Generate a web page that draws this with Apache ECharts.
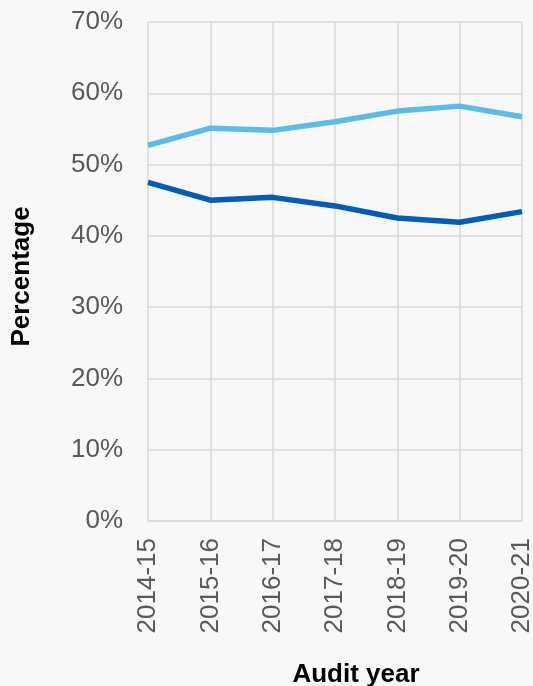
<!DOCTYPE html>
<html>
<head>
<meta charset="utf-8">
<style>
  html, body { margin: 0; padding: 0; background: #f8f8f8; }
  #chart { width: 533px; height: 686px; }
</style>
<script src="https://cdn.jsdelivr.net/npm/echarts@6/dist/echarts.min.js"></script>
</head>
<body>
<div id="chart"></div>
<script>
// Audit years along the x axis
const years = ['2014-15', '2015-16', '2016-17', '2017-18', '2018-19', '2019-20', '2020-21'];
// Percentage shares per audit year (the two series add up to about 100%)
const upperShare = [52.7, 55.1, 54.8, 56.0, 57.5, 58.2, 56.7];
const lowerShare = [47.5, 45.0, 45.4, 44.2, 42.5, 41.9, 43.4];
// Y axis range and step (percent)
const yMin = 0, yMax = 70, yStep = 10;

const font = '"Liberation Sans", Arial, Helvetica, sans-serif';
const chart = echarts.init(document.getElementById('chart'), null, { renderer: 'canvas' });

chart.setOption({
  backgroundColor: '#f8f8f8',
  animation: false,
  grid: {
    left: 148, right: 11, top: 22, bottom: 165,
    containLabel: false, outerBoundsMode: 'none'
  },
  xAxis: {
    type: 'category',
    data: years,
    boundaryGap: false,
    name: 'Audit year',
    nameLocation: 'middle',
    nameGap: 141,
    nameTextStyle: {
      fontFamily: font, fontSize: 26, fontWeight: 'bold', color: '#000',
      padding: [0, 0, 0, 42]
    },
    axisLine: { show: true, lineStyle: { color: '#d9d9d9', width: 1.5 } },
    axisTick: { show: false },
    axisLabel: {
      rotate: 90, margin: 17, interval: 0,
      fontFamily: font, fontSize: 26, color: '#595959'
    },
    splitLine: { show: true, lineStyle: { color: '#d9d9d9', width: 1.5 } }
  },
  yAxis: {
    type: 'value',
    min: yMin, max: yMax, interval: yStep,
    name: 'Percentage',
    nameLocation: 'middle',
    nameGap: 113,
    nameTextStyle: {
      fontFamily: font, fontSize: 26, fontWeight: 'bold', color: '#000',
      padding: [0, 10, 0, 0]
    },
    axisLine: { show: false },
    axisTick: { show: false },
    axisLabel: {
      margin: 25, fontFamily: font, fontSize: 26, color: '#595959',
      formatter: v => v + '%'
    },
    splitLine: { show: true, lineStyle: { color: '#d9d9d9', width: 1.5 } }
  },
  series: [
    {
      type: 'line', data: upperShare, showSymbol: false,
      lineStyle: { color: '#5bbcea', width: 5.5 }, itemStyle: { color: '#5bbcea' }
    },
    {
      type: 'line', data: lowerShare, showSymbol: false,
      lineStyle: { color: '#005eb8', width: 5.5 }, itemStyle: { color: '#005eb8' }
    }
  ]
});
</script>
</body>
</html>
